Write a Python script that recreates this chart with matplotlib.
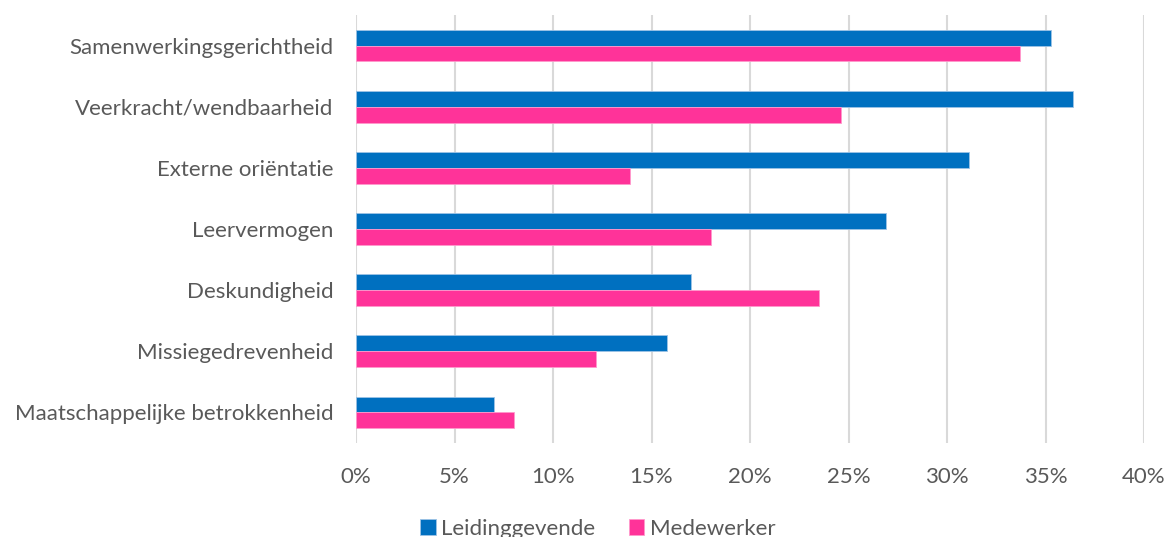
import matplotlib
matplotlib.use("Agg")
import matplotlib.pyplot as plt
import numpy as np
from matplotlib.ticker import FuncFormatter, MultipleLocator

categories = ["Samenwerkingsgerichtheid", "Veerkracht/wendbaarheid", "Externe oriëntatie",
              "Leervermogen", "Deskundigheid", "Missiegedrevenheid",
              "Maatschappelijke betrokkenheid"]
leidinggevende = [35.3, 36.4, 31.1, 26.9, 17.0, 15.8, 7.0]
medewerker = [33.7, 24.6, 13.9, 18.0, 23.5, 12.2, 8.0]
series_names = ["Leidinggevende", "Medewerker"]
colors = ["#0070C0", "#FF3399"]

plt.rcParams['font.family'] = ['Lato', 'DejaVu Sans']
text_color = "#595959"

fig = plt.figure(figsize=(11.66, 5.37), dpi=100)
ax = fig.add_axes([356/1166, 1-443/537, (1144-356)/1166, 428/537])

y = np.arange(len(categories))
h = 0.26
ax.barh(y - h/2, leidinggevende, height=h, color=colors[0], edgecolor="#9DC3E6", linewidth=0.6,
        label=series_names[0], zorder=3)
ax.barh(y + h/2, medewerker, height=h, color=colors[1], edgecolor="#FF99CC", linewidth=0.6,
        label=series_names[1], zorder=3)

ax.set_ylim(len(categories) - 0.5, -0.5)
ax.set_xlim(0, 40)
ax.xaxis.set_major_locator(MultipleLocator(5))
ax.xaxis.set_major_formatter(FuncFormatter(lambda v, p: f"{v:.0f}%"))
ax.set_yticks(y)
ax.set_yticklabels(categories)
ax.grid(axis='x', color="#D9D9D9", linewidth=1.5, zorder=0)
for s in ax.spines.values():
    s.set_visible(False)
ax.tick_params(axis='both', length=0, colors=text_color, labelsize=16)
ax.tick_params(axis='x', pad=17)
ax.tick_params(axis='y', pad=16)

leg = fig.legend(loc='center', bbox_to_anchor=(598/1166, 1-529/537), ncol=2, frameon=False,
                 fontsize=16, handlelength=0.7, handleheight=0.7, handletextpad=0.25,
                 columnspacing=1.5, labelcolor=text_color)

fig.savefig("out.png", dpi=100)
